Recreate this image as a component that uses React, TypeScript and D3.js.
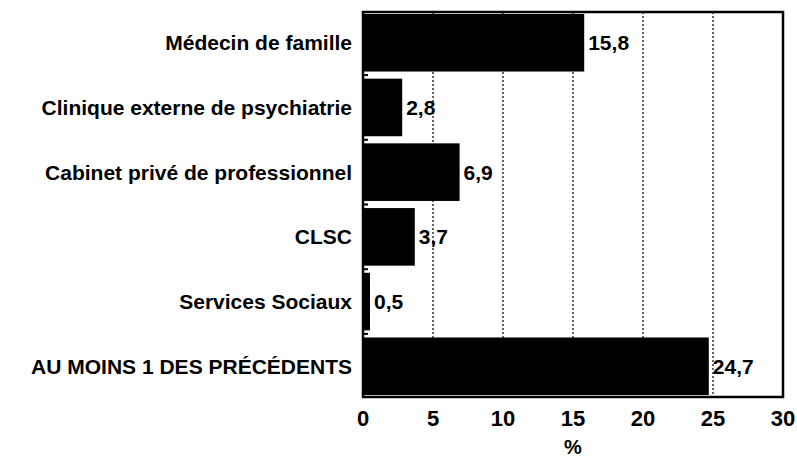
import React from "react";
import * as d3 from "d3";

const categories = [
  "Médecin de famille",
  "Clinique externe de psychiatrie",
  "Cabinet privé de professionnel",
  "CLSC",
  "Services Sociaux",
  "AU MOINS 1 DES PRÉCÉDENTS",
];
const values = [15.8, 2.8, 6.9, 3.7, 0.5, 24.7];
const valueLabels = ["15,8", "2,8", "6,9", "3,7", "0,5", "24,7"];
const xTicks = [0, 5, 10, 15, 20, 25, 30];
const axisTitle = "%";

const W = 797;
const H = 460;
const font = "'Liberation Sans', Arial, Helvetica, sans-serif";

export default function App() {
  const x = d3.scaleLinear().domain([0, 30]).range([363, 783]);
  const y = d3
    .scaleBand<string>()
    .domain(categories)
    .range([12, 397])
    .paddingInner(0.11)
    .paddingOuter(0.03);

  const top = 12;
  const bottom = 397;
  const step = y.step();

  return (
    <svg
      width={W}
      height={H}
      style={{ position: "absolute", left: 0, top: 0, background: "#fff" }}
      fontFamily={font}
      fontWeight="bold"
    >
      {/* dotted grid */}
      {xTicks
        .filter((t) => t > 0 && t < 30)
        .map((t) => (
          <line
            key={"g" + t}
            x1={x(t)}
            x2={x(t)}
            y1={top}
            y2={bottom}
            stroke="#000"
            strokeWidth={1.2}
            strokeDasharray="2,2"
          />
        ))}

      {/* bars */}
      {categories.map((c, i) => (
        <rect
          key={"b" + c}
          x={x(0)}
          y={y(c)}
          width={x(values[i]) - x(0)}
          height={y.bandwidth()}
          fill="#000"
        />
      ))}

      {/* value labels */}
      {categories.map((c, i) => (
        <text
          key={"v" + c}
          x={x(values[i]) + 4}
          y={(y(c) as number) + y.bandwidth() / 2}
          dy="0.36em"
          fontSize={21}
          fill="#000"
        >
          {valueLabels[i]}
        </text>
      ))}

      {/* frame */}
      <rect
        x={x(0)}
        y={top}
        width={x(30) - x(0)}
        height={bottom - top}
        fill="none"
        stroke="#000"
        strokeWidth={2.5}
      />

      {/* inward ticks on category axis */}
      {d3.range(1, categories.length).map((k) => {
        const yy = (y(categories[0]) as number) - (step - y.bandwidth()) / 2 + k * step;
        return (
          <line
            key={"t" + k}
            x1={x(0)}
            x2={x(0) + 5}
            y1={yy}
            y2={yy}
            stroke="#000"
            strokeWidth={2}
          />
        );
      })}

      {/* category labels */}
      {categories.map((c) => (
        <text
          key={"c" + c}
          x={352}
          y={(y(c) as number) + y.bandwidth() / 2}
          dy="0.36em"
          textAnchor="end"
          fontSize={21}
          fill="#000"
        >
          {c}
        </text>
      ))}

      {/* x tick labels */}
      {xTicks.map((t) => (
        <text
          key={"x" + t}
          x={x(t)}
          y={418}
          dy="0.36em"
          textAnchor="middle"
          fontSize={22}
          fill="#000"
        >
          {t}
        </text>
      ))}

      <text
        x={(x(0) + x(30)) / 2}
        y={447}
        dy="0.36em"
        textAnchor="middle"
        fontSize={20}
        fill="#000"
      >
        {axisTitle}
      </text>
    </svg>
  );
}
